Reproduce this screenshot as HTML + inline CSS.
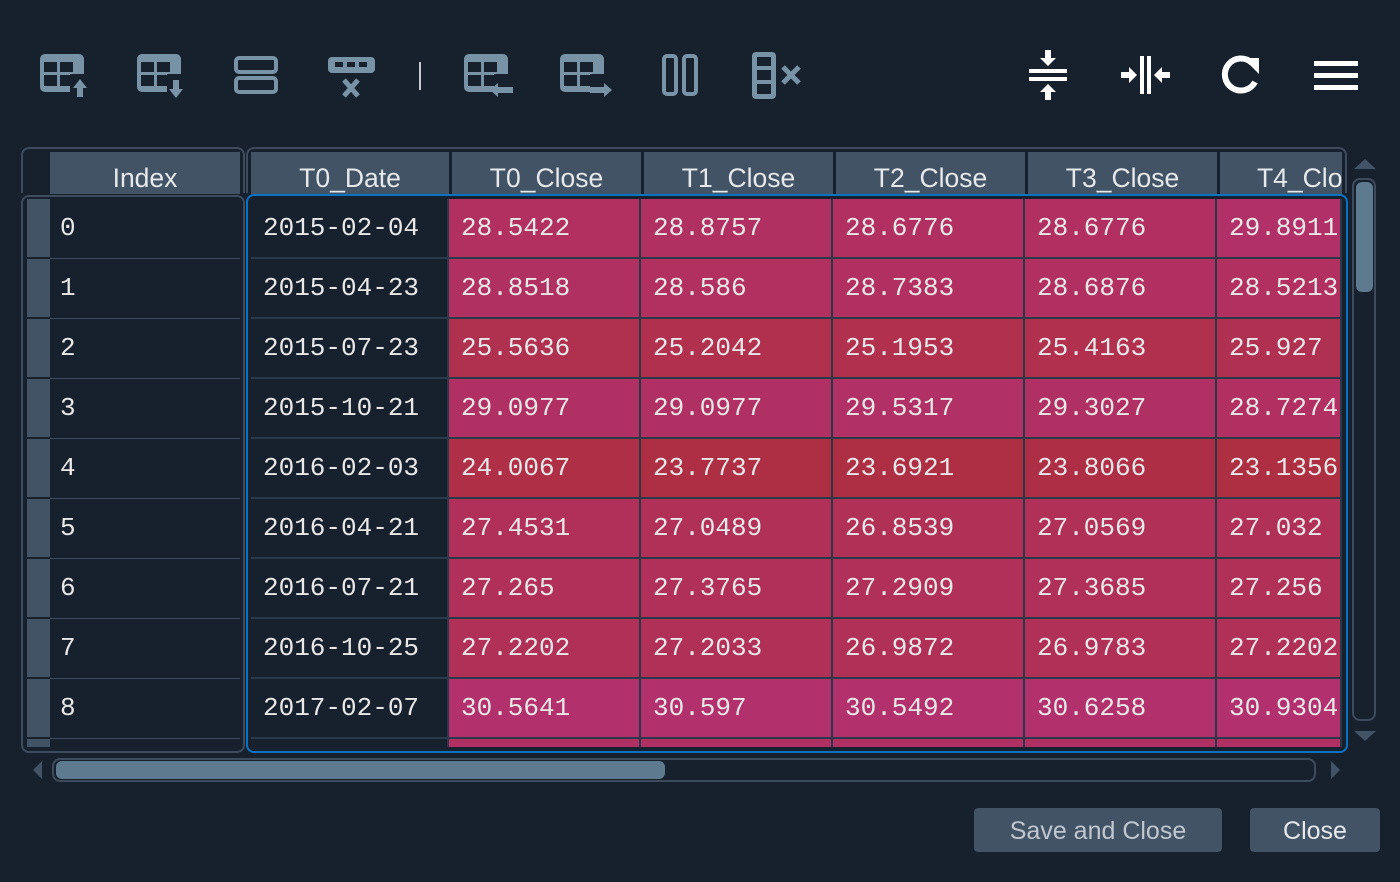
<!DOCTYPE html>
<html><head><meta charset="utf-8"><style>
*{margin:0;padding:0;box-sizing:border-box}
body{width:1400px;height:882px;background:#17212e;position:relative;overflow:hidden;font-family:"Liberation Sans",sans-serif}
.a{position:absolute}
.hd{position:absolute;top:152px;height:42px;background:#435366;color:#e6e9ec;font-size:26.5px;line-height:52px;text-align:center;overflow:hidden}
.row{position:absolute;left:0;height:60px;width:100%}
.c{position:absolute;top:0;height:60px;font-family:"Liberation Mono","DejaVu Sans Mono",monospace;font-size:26px;line-height:58px;color:#e8e8e8;padding-left:12px;white-space:nowrap;overflow:hidden}
.p{border-right:2px solid #2a3848;border-bottom:2px solid #2a3848}
.ix{font-family:"Liberation Mono","DejaVu Sans Mono",monospace;font-size:26px;color:#e8e8e8}
.btn{position:absolute;top:808px;height:44px;background:#435366;border-radius:4px;color:#bfc8d2;font-size:25px;line-height:46px;text-align:center}
</style></head><body>

<svg class="a" style="left:0;top:0" width="1400" height="120">
<g fill="#7893a6">
<rect x="40" y="54" width="44" height="38" rx="5"/>
<g fill="#17212e"><rect x="44" y="62" width="13" height="10"/><rect x="60" y="62" width="13" height="10"/><rect x="44" y="75" width="13" height="11"/><rect x="60" y="75" width="10" height="11"/><rect x="70" y="74" width="16" height="26"/></g>
<polygon points="80,79 73,88 77,88 77,97 83,97 83,88 87,88"/>
<rect x="137" y="54" width="44" height="38" rx="5"/>
<g fill="#17212e"><rect x="141" y="62" width="13" height="10"/><rect x="157" y="62" width="13" height="10"/><rect x="141" y="75" width="13" height="11"/><rect x="157" y="75" width="10" height="11"/><rect x="167" y="74" width="16" height="26"/></g>
<polygon points="176,98 169,89 173,89 173,80 179,80 179,89 183,89"/>
<rect x="236" y="58" width="40" height="14" rx="3" fill="none" stroke="#7893a6" stroke-width="4"/>
<rect x="236" y="78" width="40" height="14" rx="3" fill="none" stroke="#7893a6" stroke-width="4"/>
<rect x="328" y="57" width="47" height="16" rx="4"/>
<g fill="#17212e"><rect x="335" y="62" width="8" height="5"/><rect x="347" y="62" width="8" height="5"/><rect x="359" y="62" width="8" height="5"/></g>
<path d="M344 80 L358 96 M358 80 L344 96" stroke="#7893a6" stroke-width="5"/>
<rect x="419" y="62" width="2" height="28" fill="#c8ccd0"/>
<rect x="464" y="54" width="44" height="38" rx="5"/>
<g fill="#17212e"><rect x="468" y="62" width="13" height="10"/><rect x="484" y="62" width="13" height="10"/><rect x="468" y="75" width="13" height="11"/><rect x="484" y="75" width="10" height="11"/><rect x="494" y="74" width="16" height="26"/></g>
<polygon points="490,90 498,83 498,87 513,87 513,93 498,93 498,97"/>
<rect x="560" y="54" width="44" height="38" rx="5"/>
<g fill="#17212e"><rect x="564" y="62" width="13" height="10"/><rect x="580" y="62" width="13" height="10"/><rect x="564" y="75" width="13" height="11"/><rect x="580" y="75" width="10" height="11"/><rect x="590" y="74" width="16" height="26"/></g>
<polygon points="612,90 604,83 604,87 590,87 590,93 604,93 604,97"/>
<rect x="664" y="56" width="12" height="38" rx="3" fill="none" stroke="#7893a6" stroke-width="4"/>
<rect x="684" y="56" width="12" height="38" rx="3" fill="none" stroke="#7893a6" stroke-width="4"/>
<rect x="752" y="52" width="24" height="47" rx="4"/>
<g fill="#17212e"><rect x="757" y="57" width="14" height="9"/><rect x="757" y="70" width="14" height="10"/><rect x="757" y="84" width="14" height="10"/></g>
<path d="M783 67 L799 83 M799 67 L783 83" stroke="#7893a6" stroke-width="5"/>
</g>
<g fill="#fff">
<rect x="1029" y="69" width="38" height="4"/><rect x="1029" y="77" width="38" height="4"/>
<polygon points="1048,66 1040,58 1045,58 1045,50 1051,50 1051,58 1056,58"/>
<polygon points="1048,84 1040,92 1045,92 1045,100 1051,100 1051,92 1056,92"/>
<rect x="1140" y="56" width="4" height="38"/><rect x="1147" y="56" width="4" height="38"/>
<polygon points="1137,75 1129,67 1129,72 1121,72 1121,78 1129,78 1129,83"/>
<polygon points="1154,75 1162,67 1162,72 1170,72 1170,78 1162,78 1162,83"/>
<path d="M1252 63 A16 16 0 1 0 1255 82" fill="none" stroke="#fff" stroke-width="6"/>
<polygon points="1243,58 1259,58 1259,74"/>
<rect x="1314" y="61" width="44" height="5"/><rect x="1314" y="73" width="44" height="5"/><rect x="1314" y="85" width="44" height="5"/>
</g>
</svg>

<div class="a" style="left:21px;top:147px;width:224px;height:46px;border:2px solid #3d4b5c;border-bottom:none;border-radius:8px 8px 0 0"></div>
<div class="a" style="left:21px;top:195px;width:224px;height:558px;border:2px solid #3d4b5c;border-radius:8px"></div>
<div class="hd" style="left:50px;width:190px">Index</div>
<div class="a" style="left:23px;top:199px;width:218px;height:548px;overflow:hidden">
<div class="a" style="left:4px;top:0;width:23px;height:548px;background:#435366"></div>
<div class="a" style="left:4px;top:58px;width:23px;height:2px;background:#17212e"></div>
<div class="a" style="left:4px;top:118px;width:23px;height:2px;background:#17212e"></div>
<div class="a" style="left:4px;top:178px;width:23px;height:2px;background:#17212e"></div>
<div class="a" style="left:4px;top:238px;width:23px;height:2px;background:#17212e"></div>
<div class="a" style="left:4px;top:298px;width:23px;height:2px;background:#17212e"></div>
<div class="a" style="left:4px;top:358px;width:23px;height:2px;background:#17212e"></div>
<div class="a" style="left:4px;top:418px;width:23px;height:2px;background:#17212e"></div>
<div class="a" style="left:4px;top:478px;width:23px;height:2px;background:#17212e"></div>
<div class="a" style="left:4px;top:538px;width:23px;height:2px;background:#17212e"></div>
<div class="a" style="left:27px;top:59px;width:190px;height:1px;background:#3d4b5c"></div>
<div class="a" style="left:27px;top:119px;width:190px;height:1px;background:#3d4b5c"></div>
<div class="a" style="left:27px;top:179px;width:190px;height:1px;background:#3d4b5c"></div>
<div class="a" style="left:27px;top:239px;width:190px;height:1px;background:#3d4b5c"></div>
<div class="a" style="left:27px;top:299px;width:190px;height:1px;background:#3d4b5c"></div>
<div class="a" style="left:27px;top:359px;width:190px;height:1px;background:#3d4b5c"></div>
<div class="a" style="left:27px;top:419px;width:190px;height:1px;background:#3d4b5c"></div>
<div class="a" style="left:27px;top:479px;width:190px;height:1px;background:#3d4b5c"></div>
<div class="a" style="left:27px;top:539px;width:190px;height:1px;background:#3d4b5c"></div>
<div class="a ix" style="left:37px;top:0;line-height:58px">0</div>
<div class="a ix" style="left:37px;top:60px;line-height:58px">1</div>
<div class="a ix" style="left:37px;top:120px;line-height:58px">2</div>
<div class="a ix" style="left:37px;top:180px;line-height:58px">3</div>
<div class="a ix" style="left:37px;top:240px;line-height:58px">4</div>
<div class="a ix" style="left:37px;top:300px;line-height:58px">5</div>
<div class="a ix" style="left:37px;top:360px;line-height:58px">6</div>
<div class="a ix" style="left:37px;top:420px;line-height:58px">7</div>
<div class="a ix" style="left:37px;top:480px;line-height:58px">8</div>
</div>

<div class="a" style="left:246px;top:147px;width:1101px;height:46px;border:2px solid #3d4b5c;border-bottom:none;border-radius:8px 8px 0 0"></div>
<div class="hd" style="left:251px;width:198px">T0_Date</div>
<div class="hd" style="left:452px;width:189px">T0_Close</div>
<div class="hd" style="left:644px;width:189px">T1_Close</div>
<div class="hd" style="left:836px;width:189px">T2_Close</div>
<div class="hd" style="left:1028px;width:189px">T3_Close</div>
<div class="hd" style="left:1220px;width:122px;text-align:left;padding-left:37px;white-space:nowrap">T4_Close</div>

<div class="a" style="left:246px;top:194px;width:1102px;height:559px;border:2px solid #0a72c2;border-radius:8px"></div>
<div class="a" style="left:251px;top:199px;width:1091px;height:548px;overflow:hidden">
<div class="row" style="top:0"><div class="c p" style="left:0;width:198px">2015-02-04</div><div class="c p" style="left:198px;width:192px;background:rgb(177,48,96)">28.5422</div><div class="c p" style="left:390px;width:192px;background:rgb(177,48,98)">28.8757</div><div class="c p" style="left:582px;width:192px;background:rgb(177,48,97)">28.6776</div><div class="c p" style="left:774px;width:192px;background:rgb(177,48,97)">28.6776</div><div class="c p" style="left:966px;width:125px;background:rgb(177,48,104)">29.8911</div></div>
<div class="row" style="top:60px"><div class="c p" style="left:0;width:198px">2015-04-23</div><div class="c p" style="left:198px;width:192px;background:rgb(177,48,98)">28.8518</div><div class="c p" style="left:390px;width:192px;background:rgb(177,48,96)">28.586</div><div class="c p" style="left:582px;width:192px;background:rgb(177,48,97)">28.7383</div><div class="c p" style="left:774px;width:192px;background:rgb(177,48,97)">28.6876</div><div class="c p" style="left:966px;width:125px;background:rgb(177,48,96)">28.5213</div></div>
<div class="row" style="top:120px"><div class="c p" style="left:0;width:198px">2015-07-23</div><div class="c p" style="left:198px;width:192px;background:rgb(176,48,79)">25.5636</div><div class="c p" style="left:390px;width:192px;background:rgb(176,48,77)">25.2042</div><div class="c p" style="left:582px;width:192px;background:rgb(176,48,77)">25.1953</div><div class="c p" style="left:774px;width:192px;background:rgb(176,48,78)">25.4163</div><div class="c p" style="left:966px;width:125px;background:rgb(176,48,81)">25.927</div></div>
<div class="row" style="top:180px"><div class="c p" style="left:0;width:198px">2015-10-21</div><div class="c p" style="left:198px;width:192px;background:rgb(177,48,99)">29.0977</div><div class="c p" style="left:390px;width:192px;background:rgb(177,48,99)">29.0977</div><div class="c p" style="left:582px;width:192px;background:rgb(177,48,102)">29.5317</div><div class="c p" style="left:774px;width:192px;background:rgb(177,48,100)">29.3027</div><div class="c p" style="left:966px;width:125px;background:rgb(177,48,97)">28.7274</div></div>
<div class="row" style="top:240px"><div class="c p" style="left:0;width:198px">2016-02-03</div><div class="c p" style="left:198px;width:192px;background:rgb(174,47,70)">24.0067</div><div class="c p" style="left:390px;width:192px;background:rgb(174,47,68)">23.7737</div><div class="c p" style="left:582px;width:192px;background:rgb(174,47,68)">23.6921</div><div class="c p" style="left:774px;width:192px;background:rgb(174,47,69)">23.8066</div><div class="c p" style="left:966px;width:125px;background:rgb(173,47,65)">23.1356</div></div>
<div class="row" style="top:300px"><div class="c p" style="left:0;width:198px">2016-04-21</div><div class="c p" style="left:198px;width:192px;background:rgb(177,48,90)">27.4531</div><div class="c p" style="left:390px;width:192px;background:rgb(177,48,87)">27.0489</div><div class="c p" style="left:582px;width:192px;background:rgb(177,48,86)">26.8539</div><div class="c p" style="left:774px;width:192px;background:rgb(177,48,87)">27.0569</div><div class="c p" style="left:966px;width:125px;background:rgb(177,48,87)">27.032</div></div>
<div class="row" style="top:360px"><div class="c p" style="left:0;width:198px">2016-07-21</div><div class="c p" style="left:198px;width:192px;background:rgb(177,48,89)">27.265</div><div class="c p" style="left:390px;width:192px;background:rgb(177,48,89)">27.3765</div><div class="c p" style="left:582px;width:192px;background:rgb(177,48,89)">27.2909</div><div class="c p" style="left:774px;width:192px;background:rgb(177,48,89)">27.3685</div><div class="c p" style="left:966px;width:125px;background:rgb(177,48,88)">27.256</div></div>
<div class="row" style="top:420px"><div class="c p" style="left:0;width:198px">2016-10-25</div><div class="c p" style="left:198px;width:192px;background:rgb(177,48,88)">27.2202</div><div class="c p" style="left:390px;width:192px;background:rgb(177,48,88)">27.2033</div><div class="c p" style="left:582px;width:192px;background:rgb(177,48,87)">26.9872</div><div class="c p" style="left:774px;width:192px;background:rgb(177,48,87)">26.9783</div><div class="c p" style="left:966px;width:125px;background:rgb(177,48,88)">27.2202</div></div>
<div class="row" style="top:480px"><div class="c p" style="left:0;width:198px">2017-02-07</div><div class="c p" style="left:198px;width:192px;background:rgb(178,48,107)">30.5641</div><div class="c p" style="left:390px;width:192px;background:rgb(178,48,108)">30.597</div><div class="c p" style="left:582px;width:192px;background:rgb(178,48,107)">30.5492</div><div class="c p" style="left:774px;width:192px;background:rgb(178,48,108)">30.6258</div><div class="c p" style="left:966px;width:125px;background:rgb(178,48,110)">30.9304</div></div>
<div class="row" style="top:540px"><div class="c p" style="left:0;width:198px"></div><div class="c p" style="left:198px;width:192px;background:rgb(177,48,100)"></div><div class="c p" style="left:390px;width:192px;background:rgb(177,48,100)"></div><div class="c p" style="left:582px;width:192px;background:rgb(177,48,100)"></div><div class="c p" style="left:774px;width:192px;background:rgb(177,48,100)"></div><div class="c p" style="left:966px;width:125px;background:rgb(177,48,100)"></div></div>
</div>

<svg class="a" style="left:1350px;top:155px" width="30" height="590">
<polygon points="4,14 15,4 26,14" fill="#435366"/>
<rect x="3" y="24" width="22" height="541" rx="7" fill="none" stroke="#3d4b5c" stroke-width="2"/>
<rect x="6" y="27" width="17" height="110" rx="6" fill="#5d7a8e"/>
<polygon points="4,576 15,586 26,576" fill="#435366"/>
</svg>
<svg class="a" style="left:30px;top:755px" width="1320" height="32">
<polygon points="12,6 3,15 12,24" fill="#435366"/>
<rect x="23" y="4" width="1262" height="22" rx="7" fill="none" stroke="#3d4b5c" stroke-width="2"/>
<rect x="26" y="6" width="609" height="18" rx="6" fill="#5d7a8e"/>
<polygon points="1301,6 1310,15 1301,24" fill="#435366"/>
</svg>

<div class="btn" style="left:974px;width:248px">Save and Close</div>
<div class="btn" style="left:1250px;width:130px;color:#e6e9ec">Close</div>
</body></html>
